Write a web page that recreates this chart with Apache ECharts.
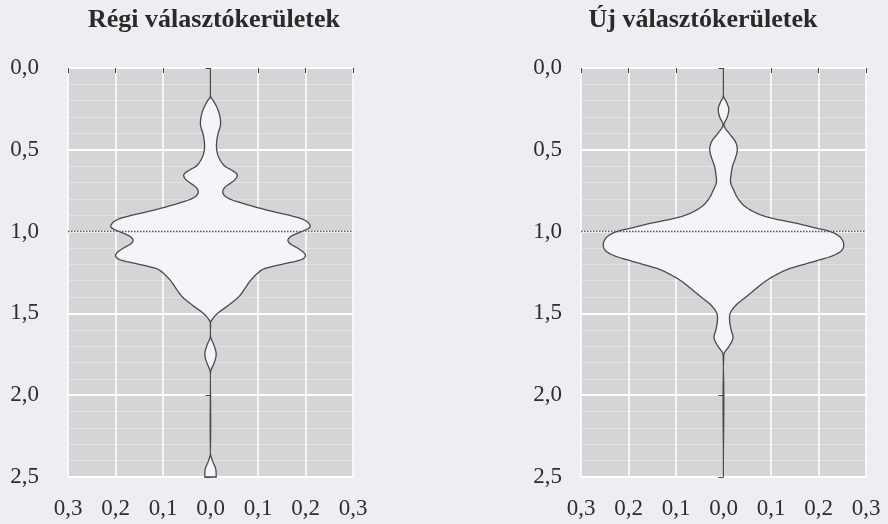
<!DOCTYPE html>
<html>
<head>
<meta charset="utf-8">
<title>Választókerületek</title>
<script src="https://cdn.jsdelivr.net/npm/echarts@6/dist/echarts.min.js"></script>
<style>
    html, body { margin: 0; padding: 0; background: #eceef2; }
    #chart { width: 888px; height: 524px; }
</style>
</head>
<body>
<div id="chart"></div>
<script>
// panel titles
var titles = ['Régi választókerületek', 'Új választókerületek'];

// violin half-widths (density), by depth on the y axis
var depthOld = [0, 0.15, 0.18, 0.20, 0.25, 0.30, 0.35, 0.40, 0.45, 0.50,
    0.55, 0.60, 0.625, 0.65, 0.675, 0.70, 0.725, 0.75, 0.775, 0.80,
    0.825, 0.85, 0.875, 0.90, 0.925, 0.95, 0.975, 1.00, 1.025, 1.05,
    1.075, 1.10, 1.125, 1.15, 1.175, 1.20, 1.225, 1.25, 1.30, 1.35,
    1.40, 1.45, 1.50, 1.55, 1.60, 1.65, 1.70, 1.75, 1.80, 1.85,
    1.90, 2.35, 2.40, 2.45, 2.50];
var widthOld = [0, 0, 0.001, 0.006, 0.015, 0.020, 0.021, 0.016, 0.013, 0.013,
    0.018, 0.030, 0.045, 0.056, 0.054, 0.044, 0.032, 0.026, 0.028, 0.040,
    0.065, 0.095, 0.128, 0.165, 0.195, 0.207, 0.209, 0.192, 0.172, 0.163,
    0.168, 0.183, 0.195, 0.200, 0.188, 0.150, 0.115, 0.101, 0.084, 0.072,
    0.059, 0.038, 0.015, 0.001, 0, 0.001, 0.008, 0.012, 0.008, 0.001,
    0, 0, 0.004, 0.011, 0.012];

var depthNew = [0, 0.15, 0.18, 0.20, 0.25, 0.30, 0.35, 0.40, 0.45, 0.50,
    0.55, 0.60, 0.65, 0.70, 0.75, 0.80, 0.85, 0.90, 0.925, 0.95,
    0.975, 1.00, 1.025, 1.05, 1.075, 1.10, 1.125, 1.15, 1.175, 1.20,
    1.225, 1.25, 1.30, 1.35, 1.40, 1.45, 1.50, 1.55, 1.60, 1.65,
    1.70, 1.75, 2.50];
var widthNew = [0, 0, 0.001, 0.005, 0.011, 0.008, 0.001, 0.012, 0.025, 0.029,
    0.025, 0.019, 0.016, 0.015, 0.022, 0.031, 0.047, 0.080, 0.112, 0.155,
    0.190, 0.225, 0.242, 0.250, 0.253, 0.252, 0.245, 0.228, 0.200, 0.170,
    0.140, 0.120, 0.090, 0.068, 0.047, 0.026, 0.014, 0.013, 0.016, 0.020,
    0.012, 0.001, 0];

// dotted reference line
var refLevel = 1.0;

var panels = [
    {left: 68, titleX: 209, labelMargin: 27, depth: depthOld, width: widthOld},
    {left: 581, titleX: 698, labelMargin: 17, depth: depthNew, width: widthNew}
];

function commaFmt(v) {
    return Math.abs(v).toFixed(1).replace('.', ',');
}

// smooth one edge of the violin (x as a function of y, y increasing), drawn as bezier pieces
function smoothEdge(pts) {
    var n = pts.length, out = [], slope = [];
    for (var i = 0; i < n; i++) {
        var a = pts[Math.max(i - 1, 0)], b = pts[Math.min(i + 1, n - 1)];
        var dy = b[1] - a[1];
        slope.push(dy ? (b[0] - a[0]) / dy : 0);
    }
    for (var j = 0; j < n - 1; j++) {
        var p1 = pts[j], p2 = pts[j + 1], h = p2[1] - p1[1];
        var c1 = [p1[0] + slope[j] * h / 3, p1[1] + h / 3];
        var c2 = [p2[0] - slope[j + 1] * h / 3, p2[1] - h / 3];
        var steps = Math.max(2, Math.ceil(h / 2));
        for (var k = 0; k < steps; k++) {
            var t = k / steps, u = 1 - t;
            out.push([
                u * u * u * p1[0] + 3 * u * u * t * c1[0] + 3 * u * t * t * c2[0] + t * t * t * p2[0],
                u * u * u * p1[1] + 3 * u * u * t * c1[1] + 3 * u * t * t * c2[1] + t * t * t * p2[1]
            ]);
        }
    }
    out.push(pts[n - 1]);
    return out;
}

function violinItem(depth, width) {
    return function (params, api) {
        var right = depth.map(function (d, i) { return api.coord([width[i], d]); });
        var left = depth.map(function (d, i) { return api.coord([-width[i], d]); });
        var pts = smoothEdge(right).concat(smoothEdge(left).reverse());
        return {
            type: 'polygon',
            shape: {points: pts},
            style: {fill: '#f4f5f8', stroke: '#4a4a4a', lineWidth: 1.3}
        };
    };
}

var labelFont = {fontFamily: 'Liberation Serif', fontSize: 23, color: '#2e2e2e'};

var option = {
    backgroundColor: '#eceef2',
    animation: false,
    title: [],
    grid: [],
    xAxis: [],
    yAxis: [],
    series: []
};

panels.forEach(function (p, i) {
    option.title.push({
        text: titles[i],
        left: p.titleX,
        top: 2,
        textAlign: 'center',
        textStyle: {fontFamily: 'Liberation Serif', fontSize: 26, fontWeight: 'bold', color: '#2a2a2a'}
    });
    option.grid.push({
        left: p.left, top: 68, width: 285, height: 409,
        show: true, backgroundColor: '#d4d5d7', borderWidth: 0
    });
    option.xAxis.push({
        gridIndex: i,
        type: 'value',
        min: -0.3,
        max: 0.3,
        interval: 0.1,
        offset: 3,
        axisLine: {show: false},
        axisTick: {show: true, length: 5, lineStyle: {color: '#444'}},
        axisLabel: Object.assign({formatter: commaFmt, margin: 17}, labelFont),
        splitLine: {show: true, lineStyle: {color: '#ffffff', width: 1.5}}
    });
    option.yAxis.push({
        gridIndex: i,
        type: 'value',
        inverse: true,
        min: 0,
        max: 2.5,
        interval: 0.5,
        offset: 2,
        axisLine: {show: false},
        axisTick: {show: true, length: 5, lineStyle: {color: '#444'}},
        axisLabel: Object.assign({formatter: commaFmt, margin: p.labelMargin}, labelFont),
        splitLine: {show: true, lineStyle: {color: '#ffffff', width: 2}},
        minorTick: {show: false, splitNumber: 5},
        minorSplitLine: {show: true, lineStyle: {color: 'rgba(255,255,255,0.35)', width: 1}}
    });
    option.series.push({
        type: 'custom',
        xAxisIndex: i,
        yAxisIndex: i,
        data: [[0, 0]],
        renderItem: violinItem(p.depth, p.width),
        z: 3
    });
    option.series.push({
        type: 'line',
        xAxisIndex: i,
        yAxisIndex: i,
        data: [[-0.3, refLevel], [0.3, refLevel]],
        symbol: 'none',
        lineStyle: {color: '#555', width: 1.5, type: 'dotted'},
        z: 4
    });
});

var chart = echarts.init(document.getElementById('chart'));
chart.setOption(option);
</script>
</body>
</html>
